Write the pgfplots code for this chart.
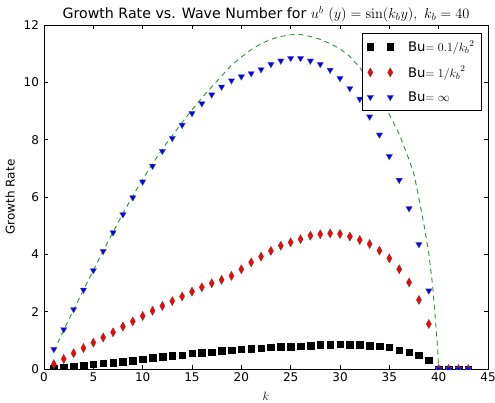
\documentclass[border=0pt]{standalone}
\usepackage{pgfplots}
\pgfplotsset{compat=1.18}
\usepackage{pgfplotstable}
\usepackage[no-math]{fontspec}
\setmainfont{DejaVu Sans}
\definecolor{dashgreen}{RGB}{40,150,40}

\pgfplotstableread{
k S D T
1 0.03 0.17 0.69
2 0.06 0.35 1.38
3 0.10 0.55 2.08
4 0.14 0.73 2.76
5 0.17 0.92 3.44
6 0.20 1.10 4.11
7 0.23 1.28 4.76
8 0.26 1.48 5.39
9 0.30 1.66 5.98
10 0.34 1.85 6.53
11 0.39 2.03 7.08
12 0.43 2.20 7.60
13 0.46 2.37 8.05
14 0.49 2.53 8.51
15 0.55 2.70 8.92
16 0.57 2.85 9.26
17 0.59 2.99 9.57
18 0.64 3.11 9.84
19 0.66 3.25 10.06
20 0.69 3.48 10.20
21 0.72 3.72 10.31
22 0.73 3.92 10.45
23 0.76 4.12 10.63
24 0.78 4.30 10.75
25 0.79 4.42 10.84
26 0.80 4.53 10.84
27 0.82 4.65 10.75
28 0.85 4.70 10.63
29 0.85 4.73 10.43
30 0.87 4.71 10.14
31 0.85 4.62 9.79
32 0.85 4.50 9.42
33 0.82 4.36 8.80
34 0.80 4.13 8.17
35 0.76 3.86 7.42
36 0.66 3.48 6.59
37 0.59 3.02 5.60
38 0.49 2.41 4.35
39 0.31 1.57 2.73
40 0 0 0
41 0 0 0
42 0 0 0
43 0 0 0
}\growth

\pgfplotstableread{
k G
1 0.62
2 1.36
3 2.06
4 2.76
5 3.44
6 4.12
7 4.78
8 5.42
9 6.04
10 6.62
11 7.16
12 7.68
13 8.14
14 8.60
15 9.04
16 9.46
17 9.84
18 10.22
19 10.60
20 10.88
21 11.14
22 11.35
23 11.50
24 11.60
25 11.66
26 11.67
27 11.60
28 11.50
29 11.35
30 11.17
31 10.90
32 10.52
33 10.05
34 9.48
35 8.88
36 8.20
37 7.30
37.5 6.80
38 5.95
38.5 5.05
39 4.04
39.4 2.87
39.7 1.60
39.9 0.70
40 0.00
}\curve

\begin{document}
\begin{tikzpicture}
\useasboundingbox (-44pt,-33pt) rectangle (451pt,369pt);
\begin{axis}[
  at={(0pt,0pt)}, anchor=south west,
  scale only axis,
  width=444pt, height=344pt,
  xmin=0, xmax=45, ymin=0, ymax=12,
  xtick={0,5,...,45}, ytick={0,2,...,12},
  tick align=inside,
  major tick length=4pt,
  minor tick num=0,
  axis line style={black, line width=0.8pt},
  tick style={black, line width=0.6pt},
  every tick label/.append style={font=\fontsize{12}{14}\selectfont},
  yticklabel style={xshift=-1.5pt},
  /pgf/number format/assume math mode=true,
  title={\fontsize{14.2}{16}\selectfont Growth Rate vs. Wave Number for $u^{b}\ (y) = \sin(k_b y),\ k_b = 40$},
  title style={yshift=-6.5pt},
  xlabel={$k$},
  ylabel={Growth Rate},
  xlabel style={font=\fontsize{12}{14}\selectfont, yshift=-3.5pt},
  ylabel style={font=\fontsize{12}{14}\selectfont, yshift=2pt},
  clip marker paths=true,
  legend style={at={(0.985,0.977)}, anchor=north east, draw=black, line width=0.6pt,
    font=\fontsize{13.2}{15}\selectfont, row sep=10pt, inner xsep=5pt, inner ysep=6pt,
    nodes={inner sep=1.5pt}},
  legend cell align=left,
  legend image code/.code={\draw[#1] plot[only marks] coordinates {(0.25cm,0cm) (0.95cm,0cm)};},
]
\addplot[dashgreen, line width=0.9pt, dash pattern=on 5pt off 4pt, forget plot] table[x=k, y=G] {\curve};
\addplot[only marks, mark=square*, mark size=3.3pt, mark options={fill=black, draw=black, line width=0.3pt}] table[x=k, y=S] {\growth};
\addlegendentry{\hspace{13pt}Bu$=0.1/{k_b}^{2}$}
\addplot[only marks, mark=diamond*, mark size=4.6pt, mark options={fill=red, draw=black!70, line width=0.3pt, xscale=0.75}] table[x=k, y=D] {\growth};
\addlegendentry{\hspace{13pt}Bu$=1/{k_b}^{2}$}
\addplot[only marks, mark=triangle*, mark size=3.7pt, mark options={fill=blue, draw=black!60, line width=0.3pt, rotate=180}] table[x=k, y=T] {\growth};
\addlegendentry{\hspace{13pt}Bu$=\infty$}
\end{axis}
\end{tikzpicture}
\end{document}
